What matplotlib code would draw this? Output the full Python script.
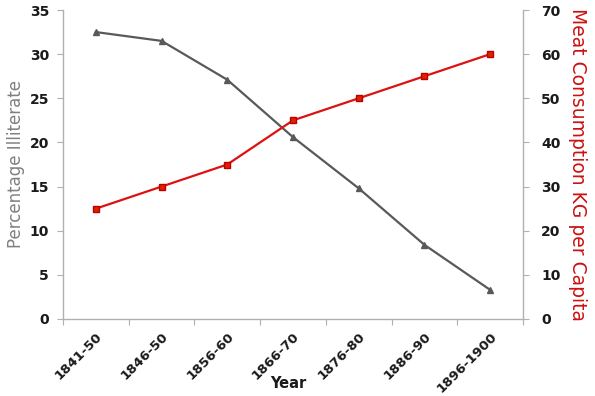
import matplotlib
matplotlib.use("Agg")
import matplotlib.pyplot as plt

years = ["1841-50", "1846-50", "1856-60", "1866-70", "1876-80", "1886-90", "1896-1900"]
illiterate = [32.5, 31.5, 27.1, 20.6, 14.8, 8.4, 3.3]
meat = [25, 30, 35, 45, 50, 55, 60]

plt.rcParams['font.family'] = ['DejaVu Sans']

fig = plt.figure(figsize=(5.95, 3.96), dpi=100)
ax = fig.add_axes([63/595, 1-319/396, (523-63)/595, (319-10)/396])
ax2 = ax.twinx()

x = list(range(len(years)))
ax.plot(x, illiterate, color='#595959', lw=1.6, marker='^', ms=4.5, zorder=3)
ax2.plot(x, meat, color='#dd1111', lw=1.6, marker='s', ms=5,
         markerfacecolor='#dd2200', markeredgecolor='#bb0000', zorder=3)

ax.set_xlim(-0.5, len(years)-0.5)
ax.set_ylim(0, 35)
ax2.set_ylim(0, 70)
ax.set_yticks(range(0, 36, 5))
ax2.set_yticks(range(0, 71, 10))

ax.set_xticks([i - 0.5 for i in range(len(years)+1)], minor=False)
ax.set_xticklabels([])
ax.set_xticks(x, minor=True)
ax.set_xticklabels(years, minor=True, rotation=45, ha='right', va='top',
                   fontsize=9.5, fontweight='bold', rotation_mode='anchor')
ax.tick_params(axis='x', which='minor', length=0, pad=8)
ax.tick_params(axis='x', which='major', length=4, color='#b0b0b0')

for a in (ax, ax2):
    for s in a.spines.values():
        s.set_visible(False)
ax.spines['left'].set_visible(True)
ax.spines['bottom'].set_visible(True)
ax2.spines['right'].set_visible(True)
for s in (ax.spines['left'], ax.spines['bottom'], ax2.spines['right']):
    s.set_color('#b0b0b0')
    s.set_linewidth(1.0)

ax.tick_params(axis='y', length=4, color='#b0b0b0', labelsize=10, pad=6)
ax2.tick_params(axis='y', length=4, color='#b0b0b0', labelsize=10, pad=9)
for lbl in ax.get_yticklabels() + ax2.get_yticklabels():
    lbl.set_fontweight('bold')
    lbl.set_color('#1a1a1a')
for lbl in ax.get_xticklabels(minor=True):
    lbl.set_color('#1a1a1a')

ax.set_ylabel("Percentage Illiterate", color='#808080', fontsize=12, labelpad=3)
ax2.set_ylabel("Meat Consumption KG per Capita", color='#cc1111', fontsize=13.5,
               rotation=270, labelpad=19)
fig.text(288/595, 1-384/396, "Year", fontsize=10.5, fontweight='bold',
         color='#1a1a1a', ha='center', va='center')

fig.savefig("out.png", dpi=100)
